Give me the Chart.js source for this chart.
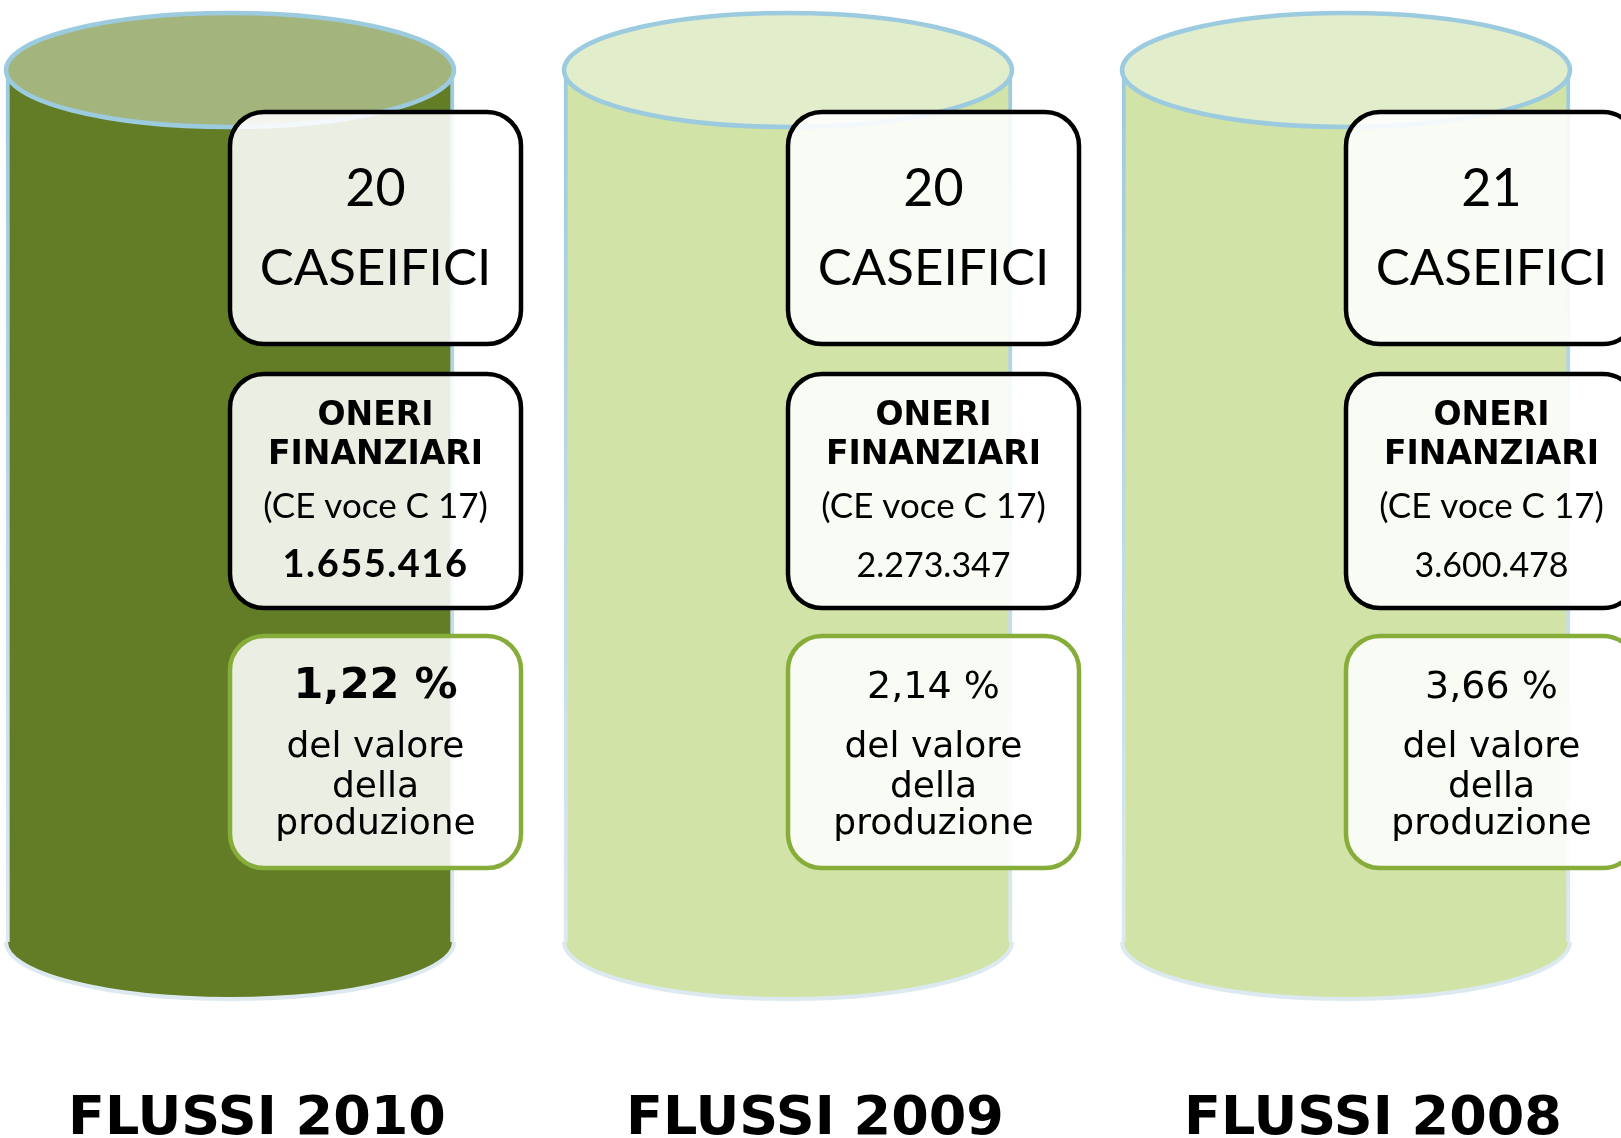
<!DOCTYPE html>
<html>
<head>
<meta charset="utf-8">
<title>Oneri finanziari caseifici</title>
<script src="https://cdn.jsdelivr.net/npm/chart.js@4"></script>
<style>
  html, body { margin: 0; padding: 0; background: #fff; }
</style>
</head>
<body>
<canvas id="myChart" width="1621" height="1138"></canvas>
<script>
'use strict';

// data
let years = ['FLUSSI 2010', 'FLUSSI 2009', 'FLUSSI 2008'];
let caseifici = [20, 20, 21];
let oneri = [1655416, 2273347, 3600478];
let percentuali = [1.22, 2.14, 3.66];
let cylinderFill = [100, 100, 100];
let currentYear = 0; // the 2010 column is the highlighted one

let bodyColors = ['#627d26', '#d1e3a6', '#d1e3a6'];
let topColors = ['#a3b47c', '#e2eecb', '#e2eecb'];

function formatEuro(n) {
  return String(n).replace(/\B(?=(\d{3})+(?!\d))/g, '.');
}

function formatPct(p) {
  return p.toFixed(2).replace('.', ',') + ' %';
}

function drawText(ctx, text, x, y, font, spacing) {
  ctx.save();
  ctx.font = font;
  ctx.fillStyle = '#000';
  ctx.textAlign = 'center';
  ctx.textBaseline = 'alphabetic';
  if (spacing && 'letterSpacing' in ctx) {
    ctx.letterSpacing = spacing + 'px';
  }
  ctx.fillText(text, x, y);
  ctx.restore();
}

function drawBox(ctx, x, y, w, h, stroke) {
  ctx.save();
  ctx.beginPath();
  ctx.roundRect(x, y, w, h, 34);
  ctx.fillStyle = 'rgba(255, 255, 255, 0.87)';
  ctx.fill();
  ctx.lineWidth = 4.5;
  ctx.strokeStyle = stroke;
  ctx.stroke();
  ctx.restore();
}

const cylinderPlugin = {
  id: 'cylinders',
  beforeDatasetsDraw(chart) {
    let ctx = chart.ctx;
    let bars = chart.getDatasetMeta(0).data;
    bars.forEach((bar, i) => {
      ctx.save();
      ctx.beginPath();
      ctx.ellipse(bar.x, bar.base, bar.width / 2, 57, 0, 0, Math.PI);
      ctx.fillStyle = bodyColors[i];
      ctx.fill();
      ctx.lineWidth = 4;
      ctx.strokeStyle = '#dde9f0';
      ctx.stroke();
      ctx.restore();
    });
  },
  afterDatasetsDraw(chart) {
    let ctx = chart.ctx;
    let bars = chart.getDatasetMeta(0).data;
    bars.forEach((bar, i) => {
      // top of the cylinder
      ctx.save();
      ctx.beginPath();
      ctx.ellipse(bar.x, bar.y, bar.width / 2, 57, 0, 0, Math.PI * 2);
      ctx.fillStyle = topColors[i];
      ctx.fill();
      ctx.lineWidth = 4.5;
      ctx.strokeStyle = '#9ccadf';
      ctx.stroke();
      ctx.restore();

      let bx = bar.x;
      let bw = 291;
      let cx = bx + bw / 2;
      let top = bar.y;
      let bold = i === currentYear;

      // numero caseifici
      let y1 = top + 42;
      drawBox(ctx, bx, y1, bw, 232, '#000');
      drawText(ctx, String(caseifici[i]), cx, y1 + 94, '52px Lato', 0);
      drawText(ctx, 'CASEIFICI', cx, y1 + 173, '51px Lato', 0);

      // oneri finanziari
      let y2 = top + 304;
      drawBox(ctx, bx, y2, bw, 234, '#000');
      drawText(ctx, 'ONERI', cx, y2 + 51, 'bold 33px "DejaVu Sans"', 0);
      drawText(ctx, 'FINANZIARI', cx, y2 + 90, 'bold 33px "DejaVu Sans"', 0);
      drawText(ctx, '(CE voce C 17)', cx, y2 + 144, '35px Lato', 0);
      drawText(ctx, formatEuro(oneri[i]), cx, y2 + 203,
        bold ? 'bold 38px Lato' : '34px Lato', bold ? 1.5 : 0);

      // percentuale sul valore della produzione
      let y3 = top + 566;
      drawBox(ctx, bx, y3, bw, 232, '#86ad3a');
      drawText(ctx, formatPct(percentuali[i]), cx, y3 + 62,
        bold ? 'bold 43px "DejaVu Sans"' : '38px "DejaVu Sans"', 0);
      drawText(ctx, 'del valore', cx, y3 + 121, '36px "DejaVu Sans"', 0);
      drawText(ctx, 'della', cx, y3 + 161, '36px "DejaVu Sans"', 0);
      drawText(ctx, 'produzione', cx, y3 + 198, '36px "DejaVu Sans"', 0);
    });
  }
};

function sideColor(context) {
  let chart = context.chart;
  let area = chart.chartArea;
  if (!area) {
    return '#b5d5e3';
  }
  let g = chart.ctx.createLinearGradient(0, area.top, 0, area.bottom);
  g.addColorStop(0, '#9ccadf');
  g.addColorStop(1, '#dde9f0');
  return g;
}

const data = {
  labels: years,
  datasets: [
    {
      label: 'Cilindro',
      data: cylinderFill,
      backgroundColor: bodyColors,
      borderColor: sideColor,
      borderWidth: { left: 4, right: 4, top: 0, bottom: 0 },
      borderSkipped: false,
      barThickness: 448,
      clip: false
    }
  ]
};

const config = {
  type: 'bar',
  data: data,
  options: {
    responsive: false,
    animation: false,
    layout: {
      padding: { left: 230, right: 275, top: 70, bottom: -11 }
    },
    plugins: {
      legend: { display: false },
      tooltip: { enabled: false }
    },
    scales: {
      x: {
        offset: false,
        // the tick marks are hidden, their length only pushes the labels down
        grid: { display: false, drawTicks: true, tickLength: 149 },
        border: { display: false },
        ticks: {
          color: '#000',
          font: { family: 'DejaVu Sans', size: 54, weight: 'bold', lineHeight: 1 },
          padding: 2,
          labelOffset: 27,
          maxRotation: 0,
          autoSkip: false
        }
      },
      y: {
        display: false,
        min: 0,
        max: 100
      }
    }
  },
  plugins: [cylinderPlugin]
};

const myChart = new Chart(
  document.getElementById('myChart'),
  config
);
</script>
</body>
</html>
